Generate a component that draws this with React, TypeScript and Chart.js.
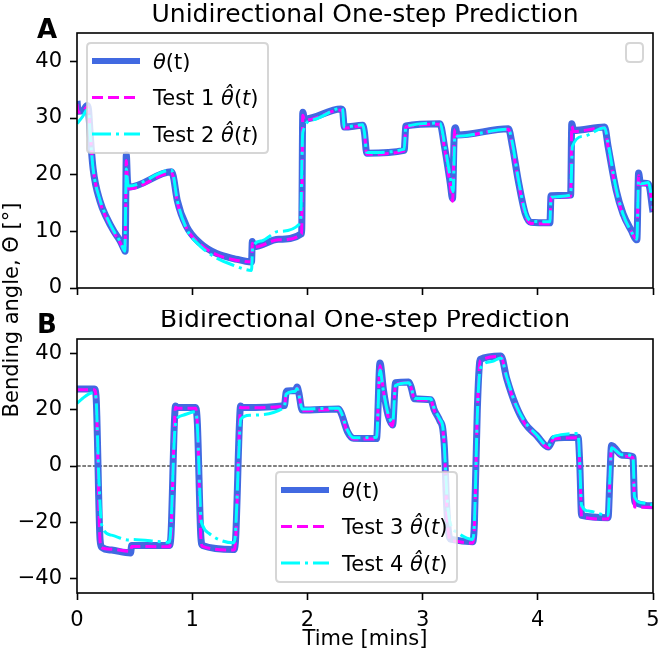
import React, { useEffect, useRef } from "react";
import { Chart, registerables } from "chart.js";
Chart.register(...registerables);

const FONT = "'DejaVu Sans', sans-serif";

// ---------- Panel A : Unidirectional ----------
const titleA = "Unidirectional One-step Prediction";
const tA = [0, 0.01, 0.05, 0.09, 0.1, 0.115, 0.14, 0.2, 0.26, 0.32, 0.375, 0.41, 0.418, 0.428, 0.438, 0.45, 0.82, 0.835, 0.87, 0.95, 1.07, 1.21, 1.36, 1.515, 1.522, 1.535, 1.75, 1.95, 1.96, 1.975, 2.29, 2.305, 2.32, 2.48, 2.495, 2.515, 2.84, 2.855, 3.15, 3.19, 3.24, 3.26, 3.275, 3.285, 3.3, 3.745, 3.78, 3.83, 3.89, 3.94, 4.105, 4.115, 4.285, 4.295, 4.31, 4.58, 4.61, 4.68, 4.74, 4.81, 4.86, 4.875, 4.89, 4.96, 5.0];
const thetaA = [33, 31.2, 31.3, 32.2, 31.5, 27, 21, 15.3, 12.3, 10, 8.3, 6.8, 6.5, 23.5, 19, 17.8, 20.5, 19.8, 15.5, 10.9, 7.9, 6.1, 5.2, 4.6, 8.2, 7.3, 8.6, 9.6, 31, 29.8, 31.6, 31.4, 28.4, 28.7, 27.5, 23.8, 24.3, 28.6, 29, 25, 18.5, 15.8, 27.5, 28.3, 27, 28.1, 25, 19, 13.2, 11.6, 11.5, 16.3, 16.4, 29, 27.8, 28.4, 25, 17.3, 13.1, 10.2, 8.5, 20.3, 18.6, 18.4, 13.4];
const test1A = [32.5, 31, 31.2, 32, 31.3, 27.2, 21.2, 15.2, 12.1, 9.8, 8, 6.6, 6.6, 22.5, 18.6, 17.5, 20.3, 19.6, 15.2, 10.6, 7.7, 5.9, 5, 4.6, 7.9, 7.2, 8.5, 9.5, 30.5, 29.6, 31.4, 31.2, 28.2, 28.6, 27.3, 23.6, 24.2, 28.4, 28.9, 24.6, 18, 15.3, 27, 28, 26.8, 28, 24.8, 18.8, 13, 11.4, 11.3, 16, 16.2, 28.6, 27.6, 28.3, 24.8, 17, 12.8, 10, 8.6, 19.8, 18.3, 18.2, 13.6];
const tA2 = [0, 0.05, 0.09, 0.1, 0.115, 0.14, 0.2, 0.26, 0.32, 0.375, 0.415, 0.428, 0.44, 0.45, 0.82, 0.835, 0.87, 0.95, 1.07, 1.21, 1.36, 1.515, 1.525, 1.6, 1.75, 1.94, 1.96, 2.05, 2.29, 2.305, 2.32, 2.48, 2.495, 2.515, 2.84, 2.855, 3.15, 3.19, 3.24, 3.265, 3.28, 3.3, 3.745, 3.78, 3.83, 3.89, 3.94, 4.105, 4.115, 4.285, 4.3, 4.4, 4.58, 4.61, 4.68, 4.74, 4.81, 4.86, 4.875, 4.89, 4.96, 5.0];
const test2A = [29, 30.3, 31.5, 31.2, 27, 21, 15.5, 12.4, 10, 8.2, 6.5, 21, 18.5, 18, 20.8, 20, 15.5, 10.5, 7.4, 5.3, 4, 3.1, 7.2, 8.3, 10, 11.5, 27.5, 29.7, 31.7, 31.5, 28.4, 28.8, 27.5, 23.9, 24.5, 28.5, 29.1, 25.5, 19.5, 17, 27, 26.8, 28, 25.5, 19.3, 13.5, 11.8, 11.7, 16, 16.4, 25, 26.8, 28.3, 25.5, 17.5, 13, 10, 8.6, 19, 18.4, 18.6, 14];
const yTicksA = [0, 10, 20, 30, 40];

// ---------- Panel B : Bidirectional ----------
const titleB = "Bidirectional One-step Prediction";
const tB = [0, 0.15, 0.165, 0.2, 0.215, 0.3, 0.465, 0.475, 0.8, 0.815, 0.845, 0.855, 0.87, 1.03, 1.045, 1.075, 1.09, 1.36, 1.375, 1.41, 1.42, 1.435, 1.8, 1.815, 1.825, 1.895, 1.91, 1.925, 1.955, 2.27, 2.29, 2.35, 2.4, 2.6, 2.63, 2.66, 2.7, 2.74, 2.765, 2.88, 2.9, 2.93, 3.07, 3.1, 3.15, 3.175, 3.19, 3.21, 3.235, 3.25, 3.435, 3.45, 3.475, 3.5, 3.68, 3.73, 3.81, 3.89, 3.99, 4.09, 4.14, 4.35, 4.365, 4.38, 4.61, 4.625, 4.64, 4.73, 4.826, 4.84, 5.0];
const thetaB = [27.3, 27.3, 25, -26, -28.8, -29.8, -30.8, -28.2, -28.2, -25, 15, 21.3, 20.7, 20.7, 15, -25, -28.2, -29.6, -27, 15, 21.3, 20.7, 21.4, 26, 26.6, 26.7, 28, 26, 19.8, 20.2, 19, 12, 9.8, 9.7, 36.5, 27, 18, 14.5, 29.5, 29.8, 28, 23.8, 23.5, 20, 16, 13.2, 6, -15, -25.5, -26, -26.8, -20, 20, 37.8, 39, 31, 21.4, 15, 10.8, 6.7, 9.8, 10.2, 0, -17.5, -18.3, -5, 7.3, 3.8, 3.3, -12.7, -14.1];
const test3B = [27, 27, 24.5, -26.5, -29, -29.5, -30.2, -28.5, -28.6, -25.5, 14, 20.8, 20.5, 20.5, 14.5, -25.5, -28.5, -29.8, -27.5, 14, 20.8, 20.6, 21.2, 25.5, 26.3, 26.5, 27.6, 25.8, 19.6, 20, 18.8, 11.8, 9.6, 9.6, 35.5, 26.5, 17.5, 14.2, 29, 29.5, 27.8, 23.5, 23.3, 19.8, 15.8, 13, 5.5, -16, -26, -26.4, -27.3, -21, 19, 37.3, 38.8, 30.8, 21.2, 14.8, 10.6, 6.5, 9.6, 10, -1, -18, -18.8, -6, 6.8, 3.5, 3, -14.5, -14.6];
const tB2 = [0, 0.05, 0.1, 0.15, 0.165, 0.19, 0.215, 0.3, 0.45, 0.47, 0.8, 0.815, 0.845, 0.86, 0.92, 1.03, 1.045, 1.075, 1.09, 1.15, 1.36, 1.375, 1.41, 1.42, 1.5, 1.8, 1.815, 1.895, 1.91, 1.925, 1.955, 2.27, 2.29, 2.35, 2.4, 2.6, 2.63, 2.66, 2.7, 2.74, 2.765, 2.88, 2.9, 2.93, 3.07, 3.1, 3.15, 3.175, 3.19, 3.21, 3.235, 3.3, 3.435, 3.45, 3.475, 3.5, 3.6, 3.68, 3.73, 3.81, 3.89, 3.99, 4.09, 4.14, 4.35, 4.365, 4.38, 4.45, 4.61, 4.625, 4.64, 4.73, 4.826, 4.84, 4.9, 5.0];
const test4B = [22.2, 24, 25.5, 26, 24, -5, -21, -24.5, -26.2, -26, -27, -22, 10, 16, 18, 19.2, 14, -18, -21, -24, -27.2, -24, 10, 16.5, 18, 20.8, 25.5, 26.5, 27.5, 25.5, 20.2, 20.5, 19.3, 12.5, 10, 10.2, 34, 26.5, 18.5, 15.5, 28.5, 29.5, 28, 24, 23.8, 20.5, 16.5, 14, 6, -10, -19.5, -23.5, -26, -20, 18, 34.5, 37, 38.3, 31.5, 21.6, 15.5, 11, 7, 10.5, 11.5, 0, -14, -16, -17.5, -5, 6.5, 4, 3.3, -11, -13, -13.8];
const yTicksB = [-40, -20, 0, 20, 40];

const xTicks = [0, 1, 2, 3, 4, 5];
const xLabel = "Time [mins]";
const yLabel = "Bending angle, \u0398 [\u00b0]";

const BLUE = "#4169E1";
const MAGENTA = "#FF00FF";
const CYAN = "#00FFFF";

const FS = 21; // base font size
const TITLE_FS = 25;

type Part = { text: string; italic?: boolean };
type LegendItem = { parts: Part[]; color: string; width: number; dash: number[] };

const hatTheta = (label: string): Part[] => [
  { text: label + " " },
  { text: "\u03b8\u0302", italic: true },
  { text: "(" },
  { text: "t", italic: true },
  { text: ")" },
];
const thetaParts: Part[] = [{ text: "\u03b8", italic: true }, { text: "(t)" }];

function pts(t: number[], v: number[]) {
  return t.map((x, i) => ({ x, y: v[i] }));
}

function roundRect(ctx: CanvasRenderingContext2D, x: number, y: number, w: number, h: number, r: number) {
  ctx.beginPath();
  ctx.moveTo(x + r, y);
  ctx.lineTo(x + w - r, y);
  ctx.quadraticCurveTo(x + w, y, x + w, y + r);
  ctx.lineTo(x + w, y + h - r);
  ctx.quadraticCurveTo(x + w, y + h, x + w - r, y + h);
  ctx.lineTo(x + r, y + h);
  ctx.quadraticCurveTo(x, y + h, x, y + h - r);
  ctx.lineTo(x, y + r);
  ctx.quadraticCurveTo(x, y, x + r, y);
  ctx.closePath();
}

function drawRich(ctx: CanvasRenderingContext2D, parts: Part[], x: number, y: number, size: number) {
  let cx = x;
  for (const p of parts) {
    ctx.font = `${p.italic ? "italic " : ""}${size}px ${FONT}`;
    ctx.fillText(p.text, cx, y);
    cx += ctx.measureText(p.text).width;
  }
}

function drawLegend(ctx: CanvasRenderingContext2D, x0: number, y0: number, w: number, h: number, items: LegendItem[]) {
  ctx.save();
  roundRect(ctx, x0, y0, w, h, 4);
  ctx.fillStyle = "rgba(255,255,255,0.8)";
  ctx.fill();
  ctx.strokeStyle = "rgba(204,204,204,0.8)";
  ctx.lineWidth = 2;
  ctx.stroke();
  const rows = [18, 54.5, 91];
  items.forEach((it, i) => {
    const cy = y0 + rows[i];
    ctx.beginPath();
    ctx.setLineDash(it.dash);
    ctx.lineWidth = it.width;
    ctx.strokeStyle = it.color;
    ctx.lineCap = "butt";
    ctx.moveTo(x0 + 5, cy);
    ctx.lineTo(x0 + 53, cy);
    ctx.stroke();
    ctx.setLineDash([]);
    ctx.fillStyle = "#000";
    ctx.textBaseline = "alphabetic";
    ctx.textAlign = "left";
    drawRich(ctx, it.parts, x0 + 66, cy + 7.5, FS);
  });
  ctx.restore();
}

type PanelCfg = {
  title: string;
  titleY: number;
  letter: string;
  letterY: number;
  legend?: { x: number; y: number; items: LegendItem[] };
  emptyLegend?: boolean;
  xTitleY?: number;
};

function panelPlugin(cfg: PanelCfg) {
  return {
    id: "panel" + cfg.letter,
    afterDatasetsDraw(chart: any) {
      const ctx = chart.ctx as CanvasRenderingContext2D;
      if (cfg.legend) drawLegend(ctx, cfg.legend.x, cfg.legend.y, 181, 110, cfg.legend.items);
      if (cfg.emptyLegend) {
        ctx.save();
        roundRect(ctx, 626, 43, 17, 19, 4);
        ctx.fillStyle = "rgba(255,255,255,0.8)";
        ctx.fill();
        ctx.strokeStyle = "rgba(204,204,204,0.8)";
        ctx.lineWidth = 2;
        ctx.stroke();
        ctx.restore();
      }
    },
    afterDraw(chart: any) {
      const ctx = chart.ctx as CanvasRenderingContext2D;
      const a = chart.chartArea;
      ctx.save();
      ctx.strokeStyle = "#000";
      ctx.lineWidth = 1.6;
      ctx.strokeRect(a.left, a.top, a.right - a.left, a.bottom - a.top);
      ctx.fillStyle = "#000";
      ctx.textAlign = "center";
      ctx.textBaseline = "alphabetic";
      ctx.font = `${TITLE_FS}px ${FONT}`;
      ctx.fillText(cfg.title, (a.left + a.right) / 2, cfg.titleY);
      ctx.textAlign = "left";
      ctx.font = `bold 26px ${FONT}`;
      ctx.fillText(cfg.letter, 37, cfg.letterY);
      if (cfg.xTitleY !== undefined) {
        ctx.textAlign = "center";
        ctx.font = `${FS}px ${FONT}`;
        ctx.fillText(xLabel, (a.left + a.right) / 2, cfg.xTitleY);
      }
      ctx.restore();
    },
  };
}

function scales(yMin: number, yMax: number, yTicks: number[], xHeight: number, showXLabels: boolean) {
  const grid = { display: true, drawOnChartArea: false, drawTicks: true, tickLength: 7, tickWidth: 1.6, tickColor: "#000" };
  return {
    x: {
      type: "linear",
      min: 0,
      max: 5,
      afterBuildTicks: (s: any) => {
        s.ticks = xTicks.map((v) => ({ value: v }));
      },
      afterFit: (s: any) => {
        s.height = xHeight;
        s.paddingLeft = 0;
        s.paddingRight = 0;
      },
      ticks: {
        display: showXLabels,
        color: "#000",
        padding: 8,
        maxRotation: 0,
        autoSkip: false,
        font: { family: FONT, size: FS },
        callback: (v: any) => String(v),
      },
      grid,
      border: { display: false },
    },
    y: {
      type: "linear",
      min: yMin,
      max: yMax,
      afterBuildTicks: (s: any) => {
        s.ticks = yTicks.map((v) => ({ value: v }));
      },
      afterFit: (s: any) => {
        s.width = 77;
        s.paddingTop = 0;
        s.paddingBottom = 0;
      },
      ticks: {
        color: "#000",
        padding: 8,
        font: { family: FONT, size: FS },
        callback: (v: any) => (v < 0 ? "\u2212" + Math.abs(v) : String(v)),
      },
      grid,
      border: { display: false },
    },
  };
}

const lineDs = (label: string, data: any[], color: string, width: number, dash: number[], order: number) => ({
  label,
  data,
  order,
  borderColor: color,
  backgroundColor: color,
  borderWidth: width,
  borderDash: dash,
  pointRadius: 0,
  fill: false,
  cubicInterpolationMode: "monotone",
  borderJoinStyle: "round",
});

export default function App() {
  const refA = useRef<HTMLCanvasElement>(null);
  const refB = useRef<HTMLCanvasElement>(null);

  useEffect(() => {
    const legendA: LegendItem[] = [
      { parts: thetaParts, color: BLUE, width: 6, dash: [] },
      { parts: hatTheta("Test 1"), color: MAGENTA, width: 3, dash: [11, 5] },
      { parts: hatTheta("Test 2"), color: CYAN, width: 3, dash: [19, 5, 3, 5] },
    ];
    const legendB: LegendItem[] = [
      { parts: thetaParts, color: BLUE, width: 6, dash: [] },
      { parts: hatTheta("Test 3"), color: MAGENTA, width: 3, dash: [11, 5] },
      { parts: hatTheta("Test 4"), color: CYAN, width: 3, dash: [19, 5, 3, 5] },
    ];

    const chartA = new Chart(refA.current as HTMLCanvasElement, {
      type: "line",
      data: {
        datasets: [
          lineDs("theta", pts(tA, thetaA), BLUE, 7, [], 3),
          lineDs("Test 1", pts(tA, test1A), MAGENTA, 3, [11, 5], 2),
          lineDs("Test 2", pts(tA2, test2A), CYAN, 3, [19, 5, 3, 5], 1),
        ] as any,
      },
      options: {
        animation: false,
        responsive: false,
        devicePixelRatio: 1,
        layout: { padding: { top: 33, right: 7, left: 0, bottom: 0 } },
        plugins: { legend: { display: false }, tooltip: { enabled: false }, title: { display: false } },
        scales: scales(0, 45, yTicksA, 22, false) as any,
      },
      plugins: [
        panelPlugin({ title: titleA, titleY: 22, letter: "A", letterY: 38, legend: { x: 87, y: 43, items: legendA }, emptyLegend: true }),
      ],
    });

    const chartB = new Chart(refB.current as HTMLCanvasElement, {
      type: "line",
      data: {
        datasets: [
          {
            label: "zero",
            data: [
              { x: 0, y: 0 },
              { x: 5, y: 0 },
            ],
            order: 4,
            borderColor: "#000",
            borderWidth: 1,
            borderDash: [3.7, 1.6],
            pointRadius: 0,
          },
          lineDs("theta", pts(tB, thetaB), BLUE, 7, [], 3),
          lineDs("Test 3", pts(tB, test3B), MAGENTA, 3, [11, 5], 2),
          lineDs("Test 4", pts(tB2, test4B), CYAN, 3, [19, 5, 3, 5], 1),
        ] as any,
      },
      options: {
        animation: false,
        responsive: false,
        devicePixelRatio: 1,
        layout: { padding: { top: 29, right: 7, left: 0, bottom: 0 } },
        plugins: { legend: { display: false }, tooltip: { enabled: false }, title: { display: false } },
        scales: scales(-45, 45, yTicksB, 64, true) as any,
      },
      plugins: [panelPlugin({ title: titleB, titleY: 17, letter: "B", letterY: 23, legend: { x: 276, y: 162, items: legendB }, xTitleY: 335 })],
    });

    return () => {
      chartA.destroy();
      chartB.destroy();
    };
  }, []);

  return (
    <div style={{ position: "absolute", left: 0, top: 0, width: 660, height: 657, background: "#fff", overflow: "hidden" }}>
      <canvas ref={refA} width={660} height={310} style={{ position: "absolute", left: 0, top: 0, width: 660, height: 310 }} />
      <canvas ref={refB} width={660} height={347} style={{ position: "absolute", left: 0, top: 310, width: 660, height: 347 }} />
      <div
        style={{
          position: "absolute",
          left: 11 - 150,
          top: 310 - 12,
          width: 300,
          height: 24,
          lineHeight: "24px",
          textAlign: "center",
          fontFamily: FONT,
          fontSize: FS,
          color: "#000",
          transform: "rotate(-90deg)",
          transformOrigin: "50% 50%",
          whiteSpace: "nowrap",
        }}
      >
        {yLabel}
      </div>
    </div>
  );
}
